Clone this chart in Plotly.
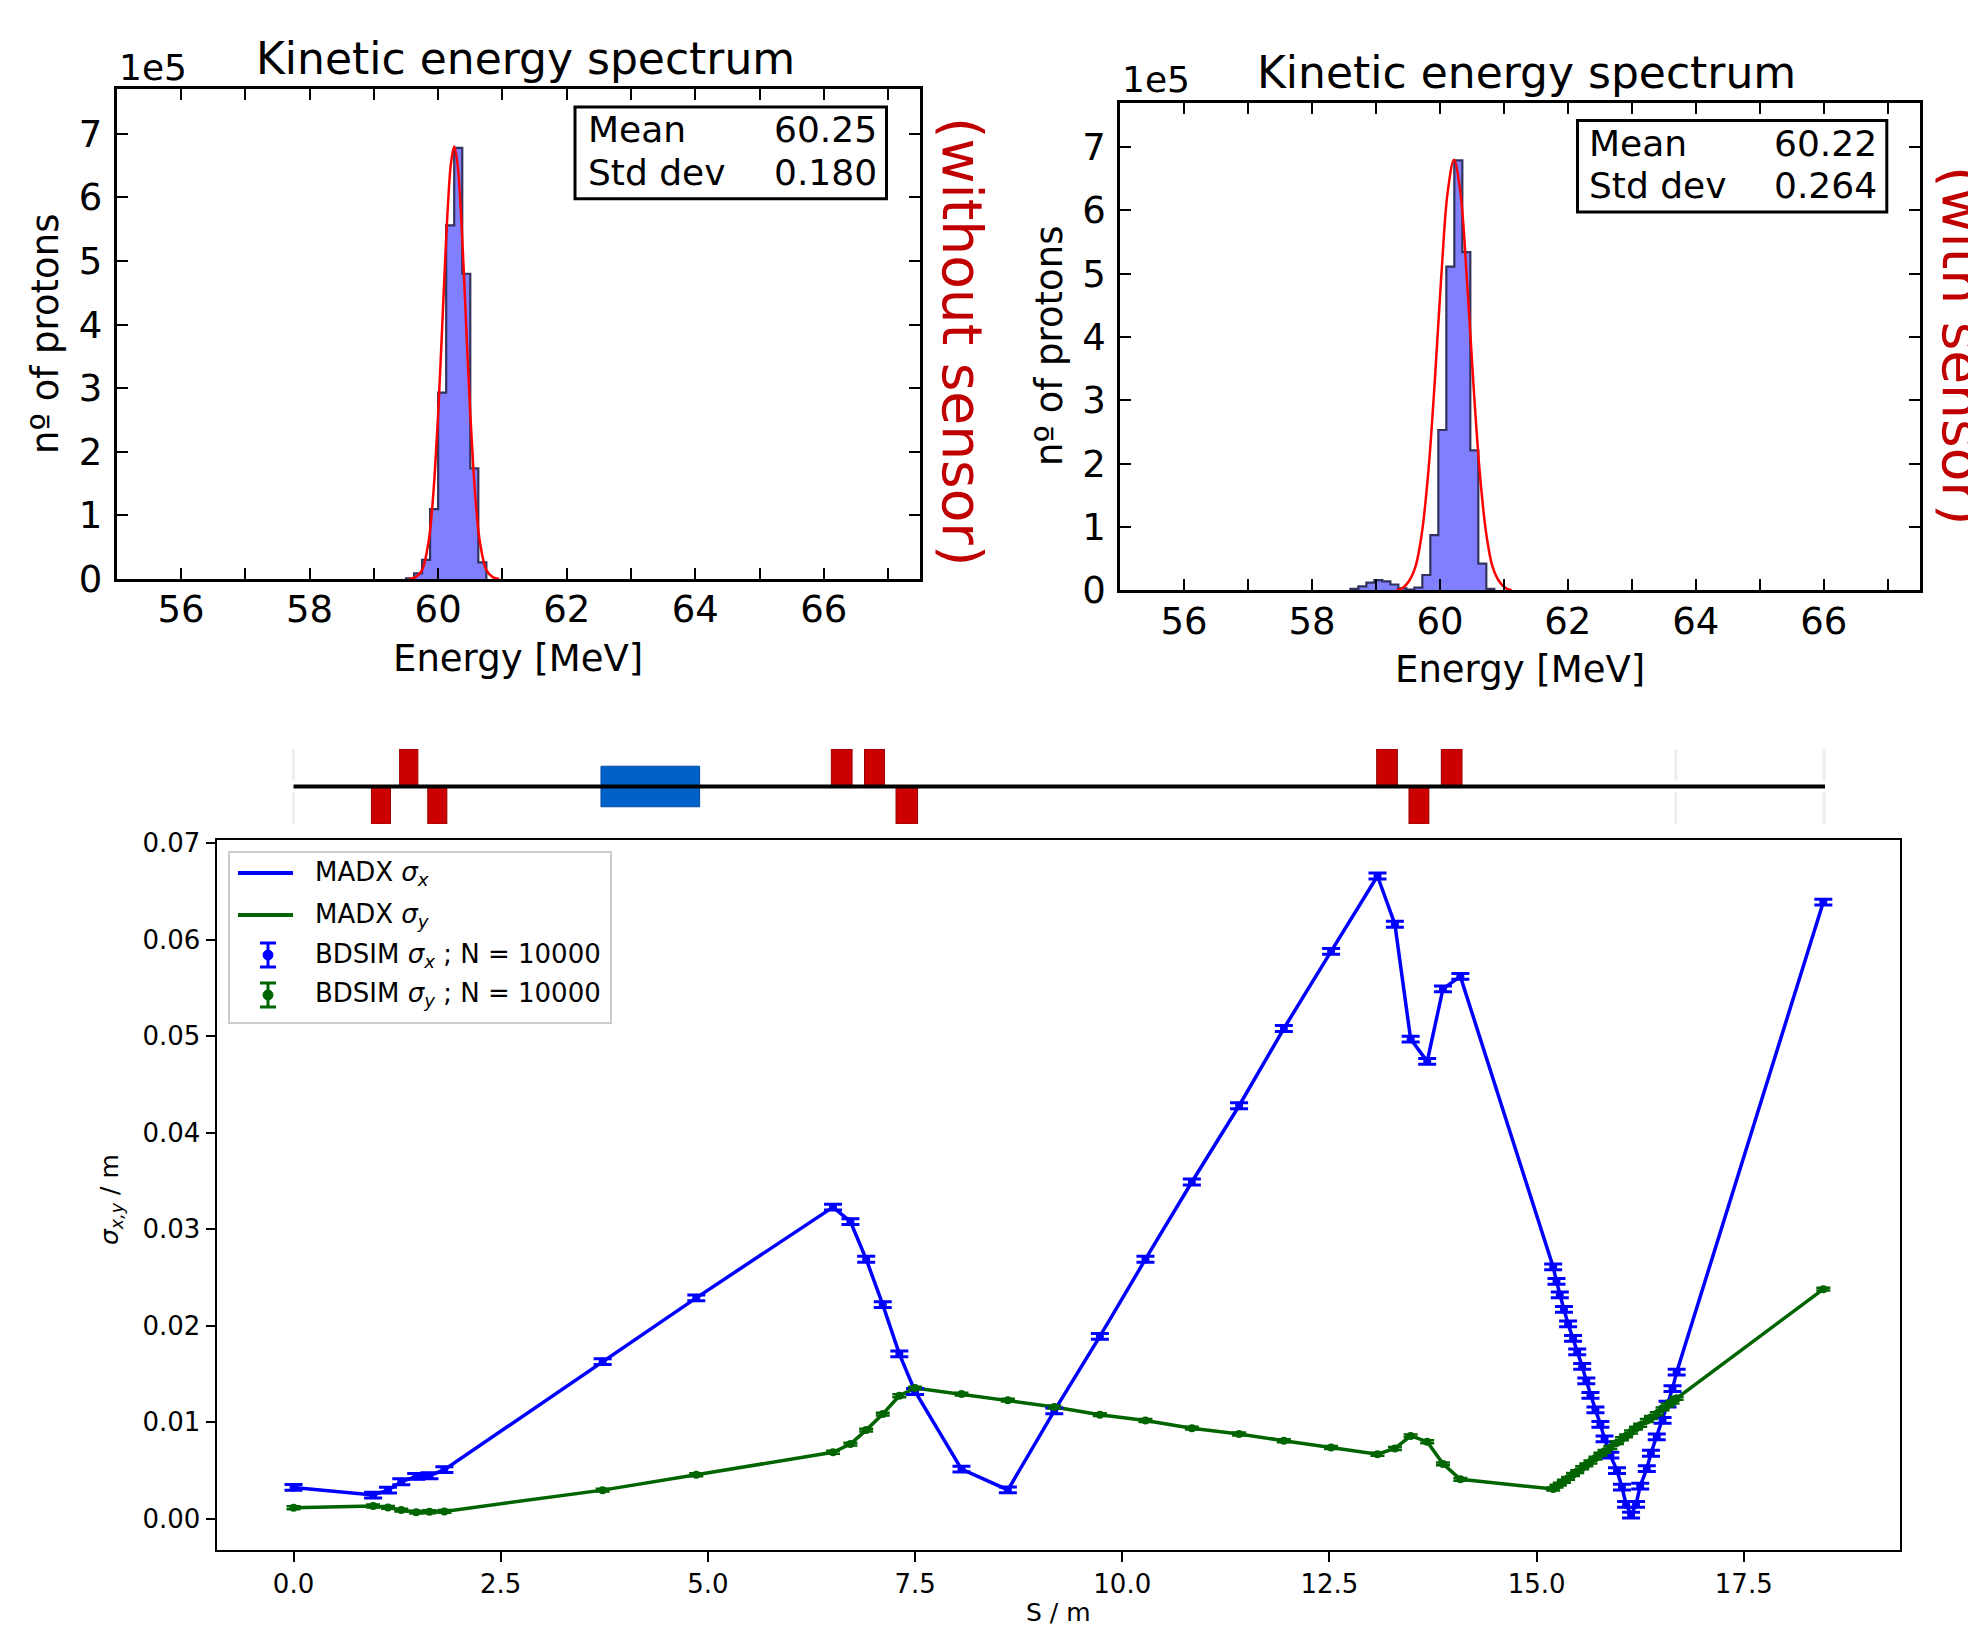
import plotly.graph_objects as go

W, H = 1976, 1627
FONT = "DejaVu Sans, Verdana, sans-serif"
OFF = 8  # page body offset compensation


def px(x):
    return (x - OFF) / W


def py(y):
    return 1 - (y - OFF) / H


# ---------------- data: kinetic energy spectra (counts in units of 1e5) ----------------
bin_width = 0.125
left_bin_starts = [59.5, 59.625, 59.75, 59.875, 60.0, 60.125, 60.25, 60.375, 60.5, 60.625]
left_counts_1e5 = [0.01, 0.09, 0.30, 1.10, 2.93, 5.56, 6.78, 4.80, 1.74, 0.26]

right_bin_starts = [58.6, 58.725, 58.85, 58.975, 59.1, 59.225, 59.35, 59.475, 59.6,
                    59.725, 59.85, 59.975, 60.1, 60.225, 60.35, 60.475, 60.6, 60.725]
right_counts_1e5 = [0.02, 0.06, 0.12, 0.16, 0.14, 0.09, 0.03, 0.01, 0.04,
                    0.24, 0.87, 2.53, 5.11, 6.79, 5.34, 2.21, 0.42, 0.02]

# fitted gaussian curves
left_fit_E = [59.55, 59.65, 59.75, 59.85, 59.9, 59.95, 60.0, 60.05, 60.1, 60.15, 60.2, 60.25,
              60.3, 60.35, 60.4, 60.45, 60.5, 60.55, 60.6, 60.65, 60.75, 60.85, 60.95]
left_fit_val = [0.0, 0.03, 0.14, 0.58, 1.03, 1.70, 2.59, 3.67, 4.81, 5.83, 6.54, 6.80,
                6.54, 5.83, 4.81, 3.67, 2.59, 1.70, 1.03, 0.58, 0.14, 0.03, 0.0]
right_fit_E = [59.32, 59.42, 59.52, 59.62, 59.72, 59.82, 59.92, 60.02, 60.12, 60.22,
               60.32, 60.42, 60.52, 60.62, 60.72, 60.82, 60.92, 61.02, 61.12]
right_fit_val = [0.0, 0.04, 0.15, 0.38, 0.92, 1.89, 3.31, 4.94, 6.28, 6.80,
                 6.28, 4.94, 3.31, 1.89, 0.92, 0.38, 0.15, 0.04, 0.0]

left_stats = [("Mean", "60.25"), ("Std dev", "0.180")]
right_stats = [("Mean", "60.22"), ("Std dev", "0.264")]

# ---------------- data: beam sizes along the line ----------------
s_pos = [0.00, 0.96, 1.14, 1.30, 1.48, 1.64, 1.82, 3.73, 4.86, 6.51, 6.72, 6.91, 7.11, 7.31,
         7.50, 8.06, 8.62, 9.18, 9.73, 10.28, 10.84, 11.41, 11.95, 12.52, 13.08, 13.29,
         13.48, 13.68, 13.87, 14.08, 15.20, 15.24, 15.28, 15.33, 15.38, 15.44, 15.49,
         15.55, 15.60, 15.65, 15.71, 15.77, 15.82, 15.89, 15.97, 16.03, 16.08, 16.14,
         16.20, 16.25, 16.33, 16.38, 16.45, 16.52, 16.58, 16.64, 16.69, 18.46]
sigma_x = [0.00326, 0.00247, 0.00298, 0.00385, 0.00440, 0.00447, 0.00510, 0.0163, 0.0229,
           0.0323, 0.0308, 0.0269, 0.0222, 0.0171, 0.0132, 0.00516, 0.0030, 0.0112, 0.0189,
           0.0269, 0.0349, 0.0428, 0.0508, 0.0588, 0.0666, 0.0616, 0.0497, 0.0474, 0.0549,
           0.0562, 0.0261, 0.0246, 0.0232, 0.0217, 0.0202, 0.0187, 0.0173, 0.0158, 0.0143,
           0.0128, 0.0113, 0.0098, 0.0083, 0.0066, 0.0050, 0.0033, 0.0015, 0.0004, 0.0015,
           0.0034, 0.0052, 0.0068, 0.0085, 0.0102, 0.0119, 0.0135, 0.0152, 0.0639]
sigma_y = [0.00115, 0.00133, 0.00119, 0.00091, 0.00070, 0.00074, 0.00078, 0.00298, 0.00457,
           0.0069, 0.00775, 0.0092, 0.01086, 0.01276, 0.01355, 0.01293, 0.0123, 0.0116,
           0.0108, 0.0102, 0.0094, 0.0088, 0.0081, 0.0074, 0.0067, 0.0073, 0.0086, 0.0080,
           0.0057, 0.0041, 0.0031, 0.0034, 0.0036, 0.0039, 0.0042, 0.0046, 0.0049, 0.0053,
           0.0056, 0.0059, 0.0063, 0.0067, 0.0070, 0.0074, 0.0079, 0.0083, 0.0086, 0.0090,
           0.0094, 0.0097, 0.0102, 0.0105, 0.0109, 0.0114, 0.0118, 0.0121, 0.0125, 0.0238]
sigma_x_err = 0.0003
sigma_y_err = 0.00015

legend_labels = ["MADX <i>σ<sub>x</sub></i>", "MADX <i>σ<sub>y</sub></i>",
                 "BDSIM <i>σ<sub>x</sub></i> ; N = 10000",
                 "BDSIM <i>σ<sub>y</sub></i> ; N = 10000"]

# ---------------- data: beamline schematic ----------------
beamline_extent = [0.0, 18.48]
quad_start = [0.94, 1.28, 1.62, 6.49, 6.89, 7.27, 13.07, 13.46, 13.85]
quad_end = [1.17, 1.50, 1.85, 6.74, 7.13, 7.53, 13.32, 13.70, 14.10]
quad_side = [-1, 1, -1, 1, 1, -1, 1, -1, 1]
box_start = [3.71]
box_end = [4.90]
marker_pos = [0.0, 16.68, 18.47]

# ---------------- figure ----------------
fig = go.Figure()

RED = "#ff0000"
HIST_FILL = "#8080ff"
HIST_EDGE = "#33335e"
BLUE = "#0000ff"
GREEN = "#006400"


def hist_xy(starts, counts):
    xs = [starts[0]] + list(starts) + [starts[-1] + bin_width]
    ys = [0] + list(counts) + [0]
    return xs, ys


for (starts, counts, fx, fy, ax) in [
    (left_bin_starts, left_counts_1e5, left_fit_E, left_fit_val, ""),
    (right_bin_starts, right_counts_1e5, right_fit_E, right_fit_val, "2"),
]:
    hx, hy = hist_xy(starts, counts)
    fig.add_trace(go.Scatter(x=hx, y=hy, mode="lines", line_shape="hv",
                             fill="tozeroy", fillcolor=HIST_FILL,
                             line=dict(color=HIST_EDGE, width=2.2),
                             xaxis="x" + ax, yaxis="y" + ax, showlegend=False,
                             hoverinfo="skip"))
    fig.add_trace(go.Scatter(x=fx, y=fy, mode="lines", line_shape="spline",
                             line=dict(color=RED, width=2.5),
                             xaxis="x" + ax, yaxis="y" + ax, showlegend=False,
                             hoverinfo="skip"))

# beamline schematic
q_centers = [(a + b) / 2 for a, b in zip(quad_start, quad_end)]
q_widths = [b - a for a, b in zip(quad_start, quad_end)]
q_base = [0 if s > 0 else -1 for s in quad_side]
fig.add_trace(go.Bar(x=q_centers, y=[1] * len(q_centers), base=q_base, width=q_widths,
                     marker=dict(color="#cc0000", line=dict(color="#9a0000", width=1)),
                     xaxis="x3", yaxis="y3", showlegend=False, hoverinfo="skip"))
b_centers = [(a + b) / 2 for a, b in zip(box_start, box_end)]
b_widths = [b - a for a, b in zip(box_start, box_end)]
fig.add_trace(go.Bar(x=b_centers, y=[1.08] * len(b_centers), base=[-0.54] * len(b_centers),
                     width=b_widths,
                     marker=dict(color="#0062c8", line=dict(color="#0048a0", width=1)),
                     xaxis="x3", yaxis="y3", showlegend=False, hoverinfo="skip"))
mx, my = [], []
for m in marker_pos:
    mx += [m, m, None, m, m, None]
    my += [-1, -0.15, None, 0.15, 1, None]
fig.add_trace(go.Scatter(x=mx, y=my, mode="lines", line=dict(color="#eeeeee", width=3),
                         xaxis="x3", yaxis="y3", showlegend=False, hoverinfo="skip"))
fig.add_trace(go.Scatter(x=beamline_extent, y=[0, 0], mode="lines",
                         line=dict(color="black", width=4),
                         xaxis="x3", yaxis="y3", showlegend=False, hoverinfo="skip"))

# sigma plot
fig.add_trace(go.Scatter(x=s_pos, y=sigma_x, mode="lines", line=dict(color=BLUE, width=3.5),
                         name=legend_labels[0], xaxis="x4", yaxis="y4", showlegend=False))
fig.add_trace(go.Scatter(x=s_pos, y=sigma_y, mode="lines", line=dict(color=GREEN, width=3.5),
                         name=legend_labels[1], xaxis="x4", yaxis="y4", showlegend=False))
fig.add_trace(go.Scatter(x=s_pos, y=sigma_x, mode="markers",
                         marker=dict(color=BLUE, size=8),
                         error_y=dict(type="constant", value=sigma_x_err, color=BLUE,
                                      thickness=3, width=9),
                         name=legend_labels[2], xaxis="x4", yaxis="y4", showlegend=False))
fig.add_trace(go.Scatter(x=s_pos, y=sigma_y, mode="markers",
                         marker=dict(color=GREEN, size=8),
                         error_y=dict(type="constant", value=sigma_y_err, color=GREEN,
                                      thickness=2.5, width=7),
                         name=legend_labels[3], xaxis="x4", yaxis="y4", showlegend=False))


# ---------------- axes ----------------
def top_x(domain, anchor):
    return dict(domain=domain, anchor=anchor, range=[55, 67.5], tick0=56, dtick=2,
                ticks="inside", ticklen=11, tickwidth=2, tickcolor="black",
                minor=dict(tick0=55, dtick=1, ticks="inside", ticklen=11, tickwidth=2,
                           tickcolor="black", showgrid=False),
                showline=True, linewidth=3, linecolor="black", mirror="ticks",
                showgrid=False, zeroline=False, ticklabelstandoff=-4, automargin=False,
                tickfont=dict(family=FONT, size=37, color="black"))


def top_y(domain, anchor):
    return dict(domain=domain, anchor=anchor, range=[0, 7.7], tick0=0, dtick=1,
                ticks="inside", ticklen=11, tickwidth=2, tickcolor="black",
                showline=True, linewidth=3, linecolor="black", mirror="ticks",
                showgrid=False, zeroline=False, ticklabelstandoff=4, automargin=False,
                tickfont=dict(family=FONT, size=37, color="black"))


bot_xdom = [px(217.3), px(1900.4)]

fig.update_layout(
    width=W, height=H, margin=dict(l=0, r=0, t=0, b=0, autoexpand=False),
    paper_bgcolor="white", plot_bgcolor="white", barmode="overlay", showlegend=False,
    font=dict(family=FONT, color="black"),
    xaxis=top_x([px(116.7), px(920.3)], "y"),
    yaxis=top_y([py(579), py(89.3)], "x"),
    xaxis2=top_x([px(1120.1), px(1919.7)], "y2"),
    yaxis2=top_y([py(590.2), py(102.7)], "x2"),
    xaxis3=dict(domain=bot_xdom, anchor="y3", range=[-0.92, 19.39], visible=False,
                automargin=False),
    yaxis3=dict(domain=[py(824), py(749)], anchor="x3", range=[-1, 1], visible=False,
                automargin=False),
    xaxis4=dict(domain=bot_xdom, anchor="y4", range=[-0.92, 19.39], tick0=0, dtick=2.5,
                tickformat=".1f", ticks="outside", ticklen=10, tickwidth=1.5,
                tickcolor="black", showline=True, linewidth=1.5, linecolor="black",
                mirror=True, showgrid=False, zeroline=False, automargin=False,
                tickfont=dict(family=FONT, size=26, color="black")),
    yaxis4=dict(domain=[py(1549.8), py(839.6)], anchor="x4", range=[-0.0032, 0.07037],
                tick0=0, dtick=0.01, tickformat=".2f", ticks="outside", ticklen=10,
                tickwidth=1.5, tickcolor="black", showline=True, linewidth=1.5,
                linecolor="black", mirror=True, showgrid=False, zeroline=False,
                automargin=False, tickfont=dict(family=FONT, size=26, color="black")),
)

# ---------------- annotations ----------------
ann = []


def text(x, y, t, size, xa="center", ya="middle", angle=0, color="black"):
    ann.append(dict(x=px(x), y=py(y), xref="paper", yref="paper", text=t,
                    showarrow=False, xanchor=xa, yanchor=ya, textangle=angle,
                    font=dict(family=FONT, size=size, color=color)))


text(525, 58, "Kinetic energy spectrum", 44)
text(1526, 72, "Kinetic energy spectrum", 44)
text(117, 67, "1e5", 36, xa="left")
text(1120, 80, "1e5", 36, xa="left")
text(45, 334, "nº of protons", 37, angle=-90)
text(1050, 346, "nº of protons", 37, angle=-90)
text(518, 658, "Energy [MeV]", 37)
text(1520, 670, "Energy [MeV]", 37)
text(962, 341, "(without sensor)", 55, angle=90, color="#c00000")
text(1962, 345, "(with sensor)", 55, angle=90, color="#c00000")

for (label, val), yy in zip(left_stats, [129.5, 172]):
    text(586, yy, label, 36, xa="left")
    text(879, yy, val, 36, xa="right")
for (label, val), yy in zip(right_stats, [143.8, 185]):
    text(1587, yy, label, 36, xa="left")
    text(1879, yy, val, 36, xa="right")

text(1058, 1612, "S / m", 25)
text(111, 1200, "<i>σ<sub>x,y</sub></i> / m", 25, angle=-90)

# legend (drawn manually to match the matplotlib legend)
legend_rows_y = [873, 915, 955, 995]
legend_colors = [BLUE, GREEN, BLUE, GREEN]
for lab, yy in zip(legend_labels, legend_rows_y):
    text(313, yy, lab, 26, xa="left")

fig.update_layout(annotations=ann)

shapes = [
    dict(type="rect", xref="paper", yref="paper", x0=px(575), x1=px(886.5),
         y0=py(198.7), y1=py(107), line=dict(color="black", width=3)),
    dict(type="rect", xref="paper", yref="paper", x0=px(1577.5), x1=px(1886.8),
         y0=py(212), y1=py(120.5), line=dict(color="black", width=3)),
    dict(type="rect", xref="paper", yref="paper", x0=px(229), x1=px(611),
         y0=py(1023), y1=py(852), line=dict(color="#cccccc", width=2),
         fillcolor="white", layer="above"),
]
for i, (yy, col) in enumerate(zip(legend_rows_y, legend_colors)):
    if i < 2:
        shapes.append(dict(type="line", xref="paper", yref="paper", x0=px(238), x1=px(293),
                           y0=py(yy), y1=py(yy), line=dict(color=col, width=4),
                           layer="above"))
    else:
        cx = 268
        shapes.append(dict(type="line", xref="paper", yref="paper", x0=px(cx), x1=px(cx),
                           y0=py(yy - 12), y1=py(yy + 12), line=dict(color=col, width=3),
                           layer="above"))
        for dy in (-12, 12):
            shapes.append(dict(type="line", xref="paper", yref="paper", x0=px(cx - 8),
                               x1=px(cx + 8), y0=py(yy + dy), y1=py(yy + dy),
                               line=dict(color=col, width=3), layer="above"))
        shapes.append(dict(type="circle", xref="paper", yref="paper", x0=px(cx - 5),
                           x1=px(cx + 5), y0=py(yy + 5), y1=py(yy - 5),
                           fillcolor=col, line=dict(color=col, width=1), layer="above"))
fig.update_layout(shapes=shapes)

fig.write_html("out.html")
